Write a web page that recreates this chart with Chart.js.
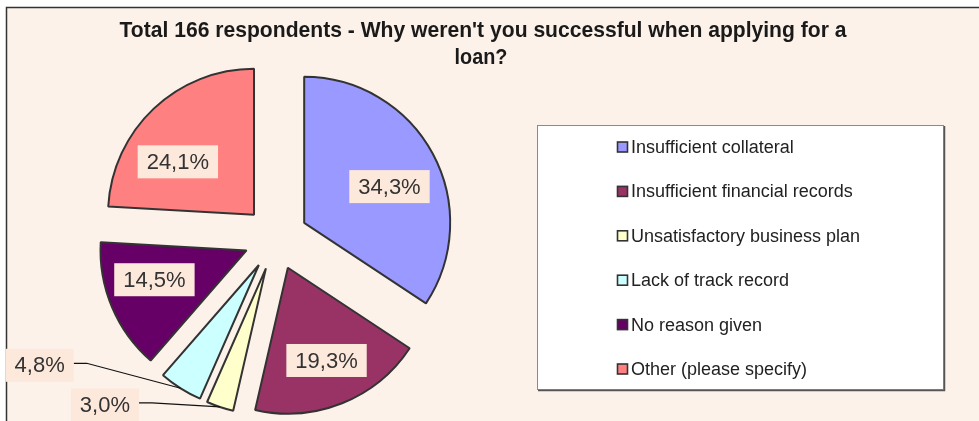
<!DOCTYPE html>
<html>
<head>
<meta charset="utf-8">
<title>Loan rejection reasons</title>
<script src="https://cdn.jsdelivr.net/npm/chart.js@4.4.1/dist/chart.umd.min.js"></script>
<style>
    html, body { margin: 0; padding: 0; background: #ffffff; }
    canvas { display: block; }
</style>
</head>
<body>
<canvas id="chart-loans" width="979" height="421"></canvas>
<script>
// ---- data ----
const titleLines = ["Total 166 respondents - Why weren't you successful when applying for a", 'loan?'];
const reasons = [
    'Insufficient collateral',
    'Insufficient financial records',
    'Unsatisfactory business plan',
    'Lack of track record',
    'No reason given',
    'Other (please specify)'
];
const shares = [34.3, 19.3, 3.0, 4.8, 14.5, 24.1];
const sliceColors = ['#9999ff', '#993366', '#ffffcc', '#ccffff', '#660066', '#ff8080'];

const FONT = "'Liberation Sans', Arial, sans-serif";
const BG = '#fdf2ea';
const SLICE_RADIUS = 146;
const EXPLODE = 32;

// label placement: inside labels get a small nudge, outside ones sit off to the left with a leader
const labelPlacement = [
    { nudge: [3, 8] },
    { nudge: [4, 6] },
    { outside: [-115, -2] },
    { outside: [-141, -23] },
    { nudge: [-6, -7] },
    { nudge: [-12, 15] }
];

function fmt(v) {
    return v.toFixed(1).replace('.', ',') + '%';
}

// exploded pie: push every slice out along its bisector by the same distance
// (the built-in offset also resizes thin slices, so draw them ourselves)
const explodePlugin = {
    id: 'explode',
    beforeDatasetDraw(chart, args) {
        const ctx = chart.ctx;
        args.meta.data.forEach(arc => {
            const mid = (arc.startAngle + arc.endAngle) / 2;
            ctx.save();
            ctx.translate(Math.cos(mid) * EXPLODE, Math.sin(mid) * EXPLODE);
            arc.draw(ctx, chart.chartArea);
            ctx.restore();
        });
        return false;
    }
};

// frame + peach background
const framePlugin = {
    id: 'frame',
    beforeDraw(chart) {
        const ctx = chart.ctx;
        ctx.save();
        ctx.fillStyle = '#ffffff';
        ctx.fillRect(0, 0, chart.width, chart.height);
        ctx.fillStyle = BG;
        ctx.fillRect(6, 8, chart.width - 6, chart.height - 8);
        ctx.strokeStyle = '#333333';
        ctx.lineWidth = 1.5;
        ctx.beginPath();
        ctx.moveTo(chart.width, 7.5);
        ctx.lineTo(6.5, 7.5);
        ctx.lineTo(6.5, chart.height);
        ctx.stroke();
        ctx.restore();
    }
};

// two-line bold title, squeezed a little like the original
const titlePlugin = {
    id: 'titleLines',
    afterDraw(chart) {
        const ctx = chart.ctx;
        ctx.save();
        ctx.fillStyle = '#1a1a1a';
        ctx.font = 'bold 22px ' + FONT;
        ctx.textAlign = 'center';
        ctx.textBaseline = 'middle';
        ctx.fillText(titleLines[0], 483, 31, 727);
        const w2 = ctx.measureText(titleLines[1]).width;
        ctx.fillText(titleLines[1], 481, 58, w2 * 0.9);
        ctx.restore();
    }
};

// boxed legend on the right
const legendPlugin = {
    id: 'boxLegend',
    afterDraw(chart) {
        const ctx = chart.ctx;
        const ds = chart.data.datasets[0];
        ctx.save();
        ctx.fillStyle = '#ffffff';
        ctx.fillRect(537, 125, 406, 264);
        ctx.strokeStyle = '#8a8a8a';
        ctx.lineWidth = 1;
        ctx.strokeRect(537.5, 125.5, 406, 264);
        ctx.strokeStyle = '#555555';
        ctx.lineWidth = 1.5;
        ctx.beginPath();
        ctx.moveTo(944.5, 126);
        ctx.lineTo(944.5, 390.5);
        ctx.lineTo(538, 390.5);
        ctx.stroke();

        ctx.font = '18px ' + FONT;
        ctx.textBaseline = 'middle';
        chart.data.labels.forEach((label, i) => {
            const y = 147 + i * 44.4;
            ctx.fillStyle = ds.backgroundColor[i];
            ctx.fillRect(617.5, y - 5, 10, 10);
            ctx.strokeStyle = '#333333';
            ctx.lineWidth = 1.6;
            ctx.strokeRect(617.5, y - 5, 10, 10);
            ctx.fillStyle = '#222222';
            ctx.fillText(label, 631, y + 1);
        });
        ctx.restore();
    }
};

// percentage labels in light boxes, leaders for the thin slices
const valueLabelPlugin = {
    id: 'valueLabels',
    afterDatasetsDraw(chart) {
        const ctx = chart.ctx;
        const meta = chart.getDatasetMeta(0);
        const values = chart.data.datasets[0].data;
        ctx.save();
        ctx.font = '22px ' + FONT;
        ctx.textAlign = 'center';
        ctx.textBaseline = 'middle';
        meta.data.forEach((arc, i) => {
            const { x, y, startAngle, endAngle, outerRadius } = arc.getProps(['x', 'y', 'startAngle', 'endAngle', 'outerRadius'], true);
            const mid = (startAngle + endAngle) / 2;
            const dx = Math.cos(mid), dy = Math.sin(mid);
            const ax = x + dx * EXPLODE, ay = y + dy * EXPLODE;
            const text = fmt(values[i]);
            const w = ctx.measureText(text).width + 18;
            const h = 33;
            const place = labelPlacement[i];
            let cx, cy;
            if (place.outside) {
                const tx = ax + dx * outerRadius, ty = ay + dy * outerRadius;
                cx = tx + place.outside[0];
                cy = ty + place.outside[1];
                const bx = cx + w / 2;
                ctx.strokeStyle = '#111111';
                ctx.lineWidth = 1.2;
                ctx.beginPath();
                ctx.moveTo(bx, cy - 2);
                ctx.lineTo(bx + 13, cy - 2);
                ctx.lineTo(tx, ty);
                ctx.stroke();
            } else {
                cx = ax + dx * outerRadius * 0.64 + place.nudge[0];
                cy = ay + dy * outerRadius * 0.64 + place.nudge[1];
            }
            ctx.fillStyle = '#fde8dc';
            ctx.fillRect(cx - w / 2, cy - h / 2, w, h);
            ctx.fillStyle = '#333333';
            ctx.fillText(text, cx, cy + 1);
        });
        ctx.restore();
    }
};

const canvas = document.getElementById('chart-loans');
new Chart(canvas.getContext('2d'), {
    type: 'pie',
    data: {
        labels: reasons,
        datasets: [{
            data: shares,
            backgroundColor: sliceColors,
            borderColor: '#333333',
            borderWidth: 2,
            offset: 0,
            hoverOffset: 0,
            radius: SLICE_RADIUS
        }]
    },
    options: {
        responsive: false,
        devicePixelRatio: 1,
        animation: false,
        layout: { padding: { left: 0, right: 427, top: 55, bottom: 0 } },
        plugins: {
            legend: { display: false },
            title: { display: false },
            tooltip: { enabled: false }
        }
    },
    plugins: [explodePlugin, framePlugin, valueLabelPlugin, legendPlugin, titlePlugin]
});
</script>
</body>
</html>
